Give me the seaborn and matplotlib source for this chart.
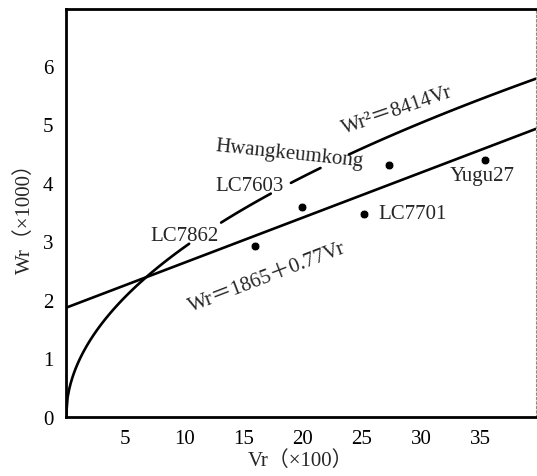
import numpy as np
import pandas as pd
import matplotlib.pyplot as plt
import seaborn as sns

# varieties (Vr x100, Wr x1000)
names = ["LC7862", "LC7603", "LC7701", "Hwangkeumkong", "Yugu27"]
vr = [16.0, 19.9, 25.2, 27.3, 35.4]
wr = [2.92, 3.59, 3.47, 4.31, 4.39]

# fitted relations printed on the chart
quad_coef = 8414      # Wr^2 = 8414 Vr
lin_a, lin_b = 1865, 0.77   # Wr = 1865 + 0.77 Vr

# pieces of the quadratic curve that are drawn (gaps where labels sit)
curve_pieces = [(0.0, 10.4), (13.1, 17.3), (19.0, 21.5), (23.9, 39.7)]

x_ticks = [5, 10, 15, 20, 25, 30, 35]
y_ticks = [0, 1, 2, 3, 4, 5, 6]

sns.set_style("white")
plt.rcParams["font.family"] = ["Liberation Serif", "Noto Sans CJK JP", "DejaVu Serif"]

rows = []
for i, (a, b) in enumerate(curve_pieces):
    v = np.linspace(a, b, 80)
    w = np.sqrt(quad_coef * v * 100) / 1000
    for vi, wi in zip(v, w):
        rows.append({"seg": i, "Vr": vi, "Wr": wi})
curve_df = pd.DataFrame(rows)

v_lin = np.array([0.0, 39.7])
lin_df = pd.DataFrame({"Vr": v_lin, "Wr": (lin_a + lin_b * v_lin * 100) / 1000})

pts = pd.DataFrame({"name": names, "Vr": vr, "Wr": wr})

fig = plt.figure(figsize=(5.37, 4.77), dpi=100)
ax = fig.add_axes([0.123, 0.124, 0.875, 0.855])

sns.lineplot(data=curve_df, x="Vr", y="Wr", units="seg", estimator=None,
             color="black", linewidth=1.9, ax=ax)
sns.lineplot(data=lin_df, x="Vr", y="Wr", color="black", linewidth=1.9, ax=ax)
sns.scatterplot(data=pts, x="Vr", y="Wr", color="black", s=40, ax=ax, zorder=5)

fs = 15
ax.text(10.0, 3.10, "LC7862", fontsize=fs, ha="center", va="center")
ax.text(15.5, 3.95, "LC7603", fontsize=fs, ha="center", va="center")
ax.text(18.9, 4.50, "Hwangkeumkong", fontsize=fs, ha="center", va="center", rotation=-6)
ax.text(29.3, 3.47, "LC7701", fontsize=fs, ha="center", va="center")
ax.text(35.2, 4.12, "Yugu27", fontsize=fs, ha="center", va="center")
ax.text(28.0, 5.24, "Wr²＝8414Vr", fontsize=fs, ha="center", va="center", rotation=19)
ax.text(17.0, 2.40, "Wr＝1865＋0.77Vr", fontsize=fs, ha="center", va="center", rotation=21)

ax.set_xlim(0, 39.7)
ax.set_ylim(0, 6.97)
ax.set_xticks(x_ticks)
ax.set_yticks(y_ticks)
ax.tick_params(axis="both", direction="inout", length=4, width=2, labelsize=15,
               colors="black", pad=7)
ax.set_xlabel("Vr（×100）", fontsize=15, labelpad=1)
ax.set_ylabel("Wr（×1000）", fontsize=15, labelpad=6)

for side in ["left", "bottom", "top"]:
    ax.spines[side].set_linewidth(2)
    ax.spines[side].set_color("black")
ax.spines["right"].set_linewidth(0.8)
ax.spines["right"].set_color("0.55")
ax.spines["right"].set_linestyle((0, (2, 2)))

fig.savefig("out.png", dpi=100)
